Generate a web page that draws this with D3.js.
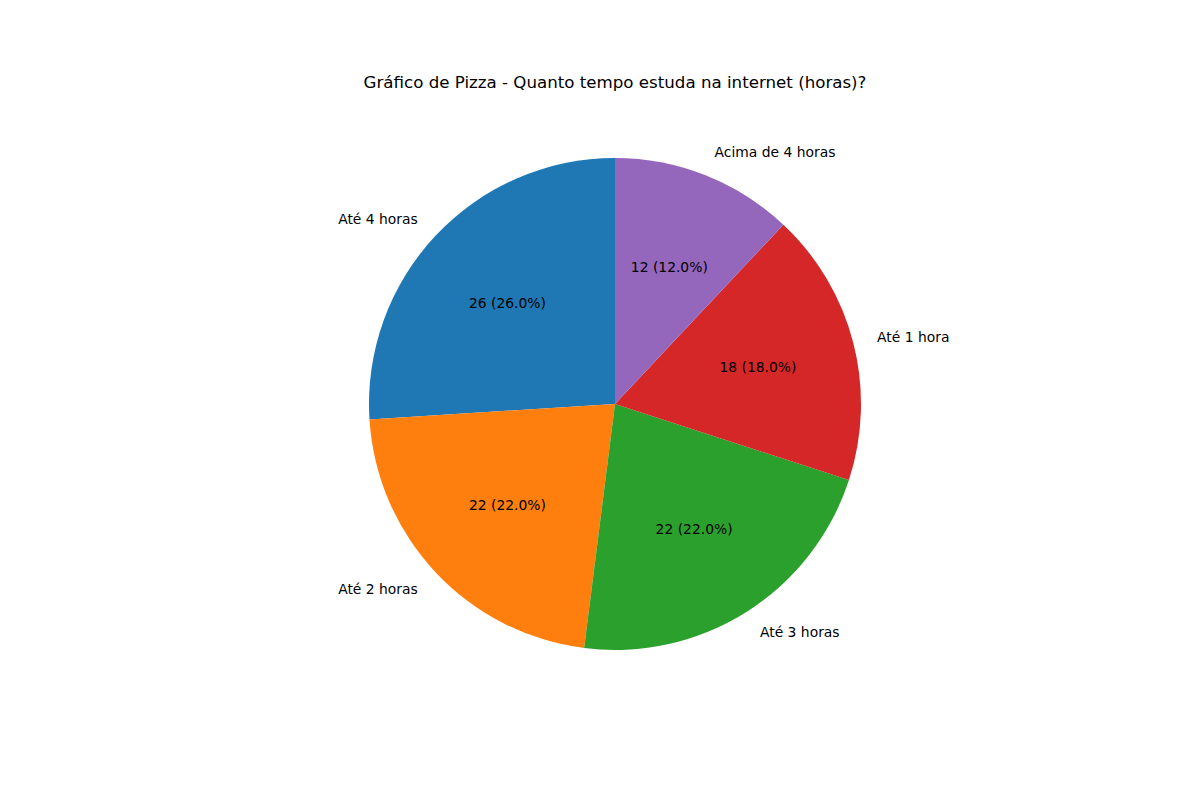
<!DOCTYPE html>
<html>
<head>
<meta charset="utf-8">
<script src="https://cdn.jsdelivr.net/npm/d3@7"></script>
<style>
  body { margin: 0; background: #fff; }
  text { font-family: "DejaVu Sans", sans-serif; fill: #000; }
</style>
</head>
<body>
<svg id="chart"></svg>
<script>
'use strict';

const categories = ['Até 4 horas', 'Até 2 horas', 'Até 3 horas', 'Até 1 hora', 'Acima de 4 horas'];
const values = [26, 22, 22, 18, 12];
const colors = ['#1f77b4', '#ff7f0e', '#2ca02c', '#d62728', '#9467bd'];
const title = 'Gráfico de Pizza - Quanto tempo estuda na internet (horas)?';

const width = 1200, height = 800;
const cx = 615, cy = 404, radius = 246;

const svg = d3.select('#chart')
    .attr('width', width)
    .attr('height', height);

const total = d3.sum(values);
const rows = categories.map((c, i) => ({label: c, value: values[i], color: colors[i]}));

// matplotlib: startangle 90, counterclockwise
const pie = d3.pie()
    .value(d => d.value)
    .sort(null)
    .startAngle(0)
    .endAngle(-2 * Math.PI);

const arcs = pie(rows);
const arc = d3.arc().innerRadius(0).outerRadius(radius);
const labelArc = d3.arc().innerRadius(radius * 1.1).outerRadius(radius * 1.1);
const pctArc = d3.arc().innerRadius(radius * 0.6).outerRadius(radius * 0.6);

const g = svg.append('g').attr('transform', 'translate(' + cx + ',' + cy + ')');

g.selectAll('path')
    .data(arcs)
    .enter()
    .append('path')
    .attr('d', arc)
    .attr('fill', d => d.data.color);

// outer labels
g.selectAll('.lbl')
    .data(arcs)
    .enter()
    .append('text')
    .attr('class', 'lbl')
    .attr('x', d => labelArc.centroid(d)[0])
    .attr('y', d => labelArc.centroid(d)[1])
    .attr('text-anchor', d => labelArc.centroid(d)[0] > 0 ? 'start' : 'end')
    .attr('dominant-baseline', 'central')
    .style('font-size', '13.89px')
    .text(d => d.data.label);

// value + percentage
g.selectAll('.pct')
    .data(arcs)
    .enter()
    .append('text')
    .attr('class', 'pct')
    .attr('x', d => pctArc.centroid(d)[0])
    .attr('y', d => pctArc.centroid(d)[1])
    .attr('text-anchor', 'middle')
    .attr('dominant-baseline', 'central')
    .style('font-size', '13.89px')
    .text(d => d.data.value + ' (' + (d.data.value / total * 100).toFixed(1) + '%)');

svg.append('text')
    .attr('x', cx)
    .attr('y', 82)
    .attr('text-anchor', 'middle')
    .attr('dominant-baseline', 'central')
    .style('font-size', '16.67px')
    .text(title);
</script>
</body>
</html>
